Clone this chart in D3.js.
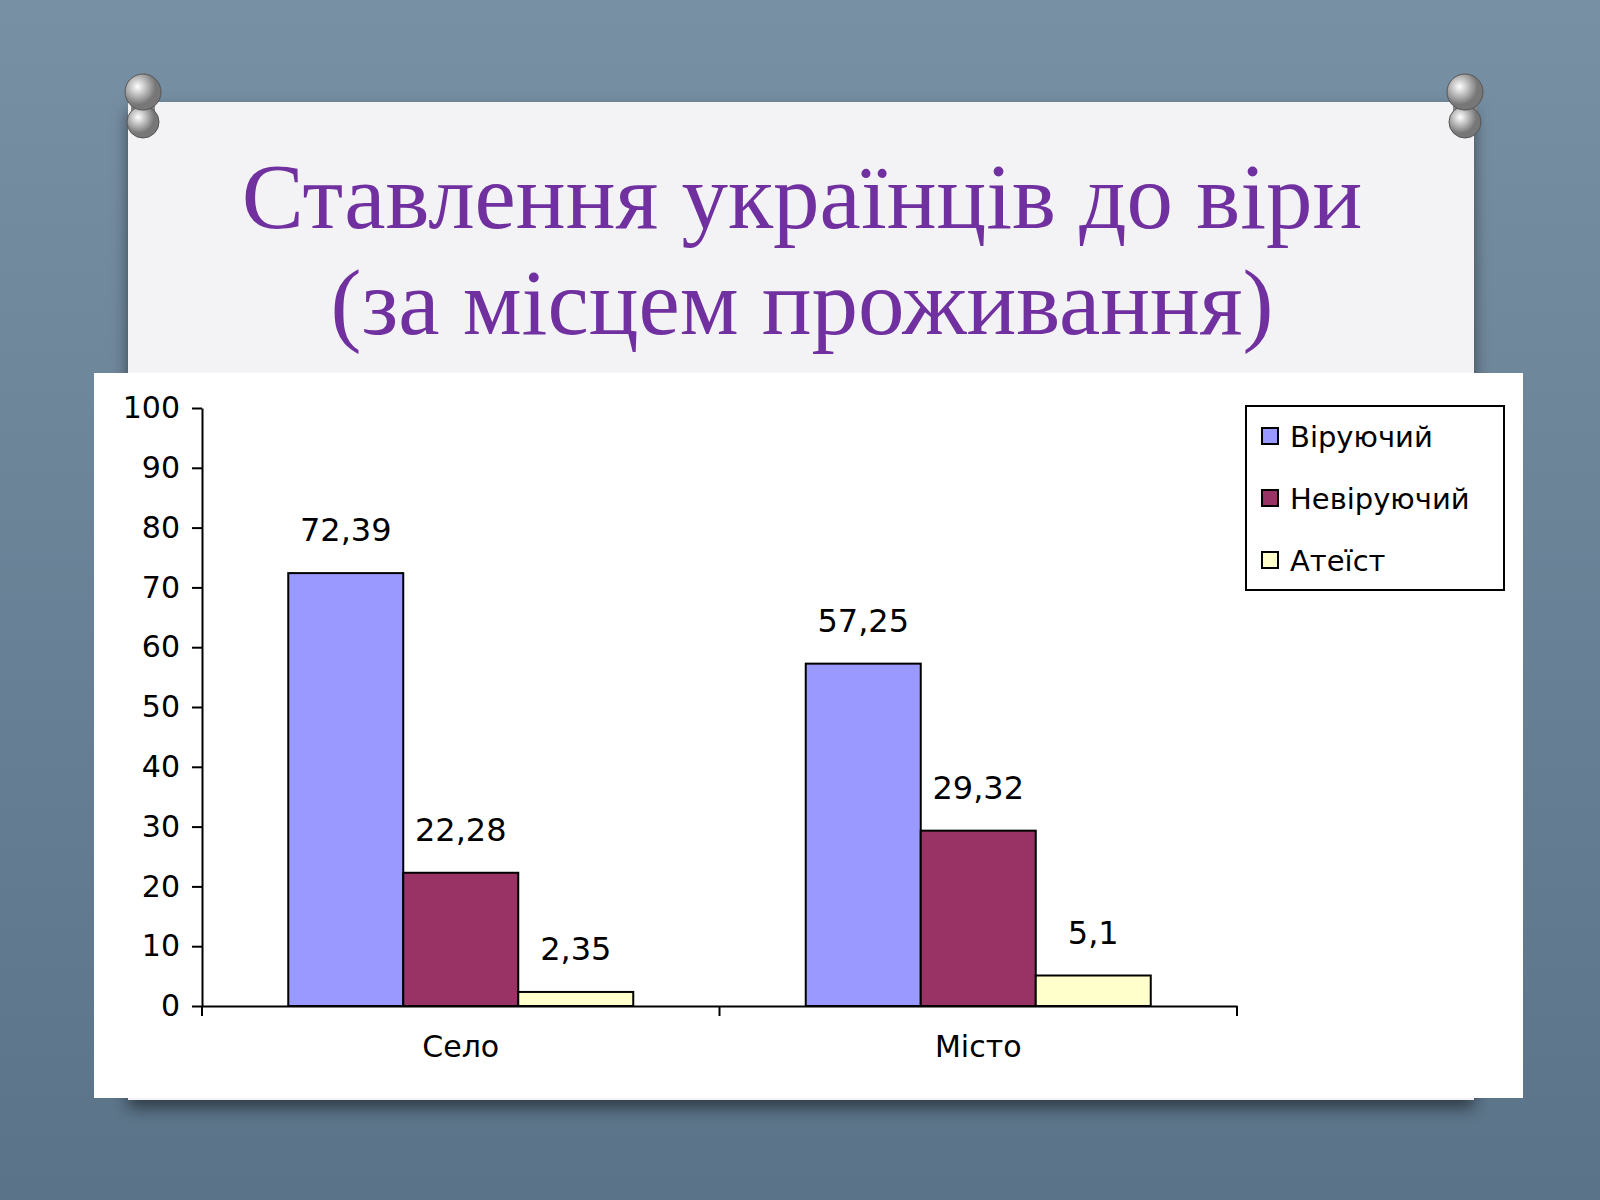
<!DOCTYPE html>
<html><head><meta charset="utf-8">
<script src="https://cdn.jsdelivr.net/npm/d3@7"></script>
<style>body{margin:0;background:#5f7a90}</style></head>
<body><svg id="c" width="1600" height="1200"></svg>
<script>
const groups = ["Село", "Місто"];
const series = ["Віруючий", "Невіруючий", "Атеїст"];
const values = [[72.39, 22.28, 2.35], [57.25, 29.32, 5.1]];
const labels = [["72,39", "22,28", "2,35"], ["57,25", "29,32", "5,1"]];
const colors = ["#9999ff", "#993366", "#ffffcc"];
const ticks = [0, 10, 20, 30, 40, 50, 60, 70, 80, 90, 100];

const svg = d3.select("#c");
const defs = svg.append("defs");
const bg = defs.append("linearGradient").attr("id", "bg").attr("x1", 0).attr("y1", 0).attr("x2", 0).attr("y2", 1);
bg.append("stop").attr("offset", 0).attr("stop-color", "#7890a4");
bg.append("stop").attr("offset", 1).attr("stop-color", "#5a7388");
svg.append("rect").attr("width", 1600).attr("height", 1200).attr("fill", "url(#bg)");
const sh = defs.append("filter").attr("id", "sh").attr("x", -0.1).attr("y", -0.1).attr("width", 1.2).attr("height", 1.2);
sh.append("feDropShadow").attr("dx", 0).attr("dy", 8).attr("stdDeviation", 8).attr("flood-color", "#000").attr("flood-opacity", 0.5);

// card
svg.append("rect").attr("x", 128).attr("y", 102).attr("width", 1346).attr("height", 998)
  .attr("fill", "#f3f3f5").attr("filter", "url(#sh)");

// pins
const pg = defs.append("radialGradient").attr("id", "pg").attr("cx", 0.35).attr("cy", 0.35);
pg.append("stop").attr("offset", 0).attr("stop-color", "#fff");
pg.append("stop").attr("offset", 1).attr("stop-color", "#777");
[[143, 100], [1465, 100]].forEach(([x, y]) => {
  svg.append("rect").attr("x", x - 12).attr("y", y - 4).attr("width", 24).attr("height", 28).attr("rx", 6).attr("fill", "#888");
  svg.append("circle").attr("cx", x).attr("cy", y + 22).attr("r", 16).attr("fill", "url(#pg)").attr("stroke", "#555");
  svg.append("circle").attr("cx", x).attr("cy", y - 8).attr("r", 18).attr("fill", "url(#pg)").attr("stroke", "#555");
});

// title
svg.append("text").attr("x", 802).attr("y", 228).attr("text-anchor", "middle")
  .attr("font-family", "Liberation Serif, serif").attr("font-size", 93).attr("fill", "#7030a0")
  .text("Ставлення українців до віри");
svg.append("text").attr("x", 802).attr("y", 334).attr("text-anchor", "middle")
  .attr("font-family", "Liberation Serif, serif").attr("font-size", 93).attr("fill", "#7030a0")
  .text("(за місцем проживання)");

// chart panel
svg.append("rect").attr("x", 94).attr("y", 373).attr("width", 1429).attr("height", 725).attr("fill", "#fff");

const font = "DejaVu Sans, sans-serif";
const y = d3.scaleLinear().domain([0, 100]).range([1006, 408]);
const x0 = d3.scaleBand().domain(groups).range([202, 1237]);
const x1 = d3.scaleBand().domain(series).range([0, 345]);
const off = (x0.bandwidth() - 345) / 2;

const ya = svg.append("g").attr("transform", "translate(202,0)")
  .call(d3.axisLeft(y).tickValues(ticks).tickSize(10).tickSizeOuter(0));
ya.selectAll("text").attr("font-family", font).attr("font-size", 30).attr("fill", "#000").attr("dx", "-0.3em");
ya.selectAll("line,path").attr("stroke", "#000").attr("stroke-width", 2);

const xa = svg.append("g").attr("transform", "translate(0,1006)")
  .call(d3.axisBottom(x0).tickSize(0).tickSizeOuter(0));
xa.selectAll("text").attr("font-family", font).attr("font-size", 30).attr("fill", "#000").attr("dy", "1.6em");
xa.selectAll("path").attr("stroke", "#000").attr("stroke-width", 2);
[202, 202 + x0.bandwidth(), 1237].forEach(t =>
  svg.append("line").attr("x1", t).attr("x2", t).attr("y1", 1006).attr("y2", 1016).attr("stroke", "#000").attr("stroke-width", 2));

groups.forEach((g, gi) => {
  series.forEach((s, si) => {
    const bx = x0(g) + off + x1(s);
    svg.append("rect").attr("x", bx).attr("y", y(values[gi][si]))
      .attr("width", x1.bandwidth()).attr("height", y(0) - y(values[gi][si]))
      .attr("fill", colors[si]).attr("stroke", "#000").attr("stroke-width", 2);
    svg.append("text").attr("x", bx + x1.bandwidth() / 2).attr("y", y(values[gi][si]) - 32)
      .attr("text-anchor", "middle").attr("font-family", font).attr("font-size", 32).text(labels[gi][si]);
  });
});

// legend
const lg = svg.append("g").attr("transform", "translate(1246,406)");
lg.append("rect").attr("width", 258).attr("height", 184).attr("fill", "#fff").attr("stroke", "#000").attr("stroke-width", 2);
series.forEach((s, i) => {
  lg.append("rect").attr("x", 16).attr("y", 22 + i * 62).attr("width", 16).attr("height", 16)
    .attr("fill", colors[i]).attr("stroke", "#000").attr("stroke-width", 2);
  lg.append("text").attr("x", 44).attr("y", 41 + i * 62).attr("font-family", font).attr("font-size", 29).text(s);
});
</script></body></html>
